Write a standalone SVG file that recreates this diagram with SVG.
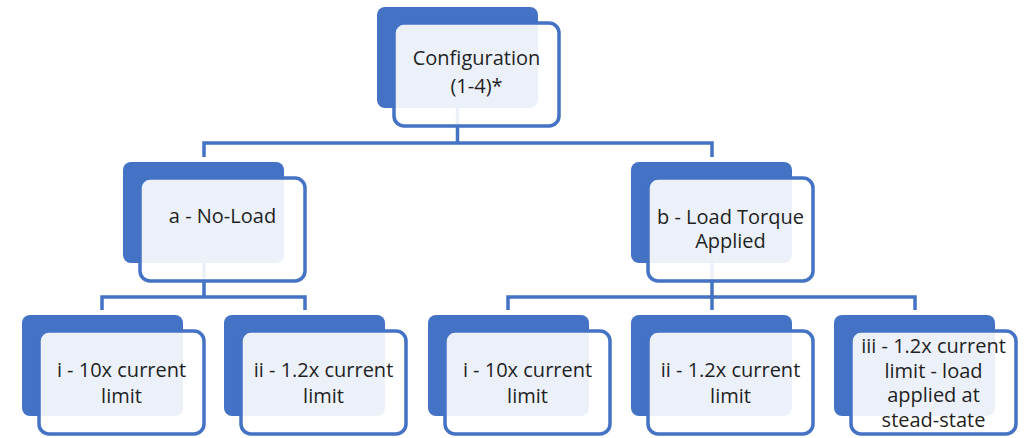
<svg xmlns="http://www.w3.org/2000/svg" width="1028" height="438" viewBox="0 0 1028 438">
<style>
.back{fill:#4472C4}
.front{fill:#FFFFFF;fill-opacity:0.9;stroke:#4472C4;stroke-width:3.5}
.conn{fill:none;stroke:#4472C4;stroke-width:3.5}
text{font-family:"Open Sans","Noto Sans",sans-serif;font-size:20px;fill:#1F1F1F;text-anchor:middle}
</style>
<rect width="1028" height="438" fill="#FFFFFF"/>
<g id="connectors">
<path class="conn" d="M457.5,108 V143 M204,143 H712 M204,141.25 V157 M712,141.25 V157"/>
<path class="conn" d="M204,263 V297 M102,297 H306 M102,295.25 V310 M305,295.25 V310"/>
<path class="conn" d="M712,263 V297 M508,297 H916 M508,295.25 V310 M712,297 V310 M915,295.25 V310"/>
</g>
<g id="node-config">
<rect class="back" x="377" y="7" width="161" height="101" rx="8"/>
<rect class="front" x="394" y="23" width="165" height="103" rx="10"/>
<text x="476.5" y="65">Configuration</text>
<text x="476.5" y="93">(1-4)*</text>
</g>
<g id="node-a">
<rect class="back" x="123" y="162" width="161" height="101" rx="8"/>
<rect class="front" x="140" y="178" width="165" height="103" rx="10"/>
<text x="222.5" y="223">a - No-Load</text>
</g>
<g id="node-b">
<rect class="back" x="631" y="162" width="161" height="101" rx="8"/>
<rect class="front" x="648" y="178" width="165" height="103" rx="10"/>
<text x="730.5" y="223.5">b - Load Torque</text>
<text x="730.5" y="248">Applied</text>
</g>
<g id="node-a-i">
<rect class="back" x="22" y="315" width="161" height="101" rx="8"/>
<rect class="front" x="39" y="331" width="165" height="103" rx="10"/>
<text x="121.5" y="377">i - 10x current</text>
<text x="121.5" y="403">limit</text>
</g>
<g id="node-a-ii">
<rect class="back" x="224" y="315" width="161" height="101" rx="8"/>
<rect class="front" x="241" y="331" width="165" height="103" rx="10"/>
<text x="323.5" y="377">ii - 1.2x current</text>
<text x="323.5" y="403">limit</text>
</g>
<g id="node-b-i">
<rect class="back" x="428" y="315" width="161" height="101" rx="8"/>
<rect class="front" x="445" y="331" width="165" height="103" rx="10"/>
<text x="527.5" y="377">i - 10x current</text>
<text x="527.5" y="403">limit</text>
</g>
<g id="node-b-ii">
<rect class="back" x="631" y="315" width="161" height="101" rx="8"/>
<rect class="front" x="648" y="331" width="165" height="103" rx="10"/>
<text x="730.5" y="377">ii - 1.2x current</text>
<text x="730.5" y="403">limit</text>
</g>
<g id="node-b-iii">
<rect class="back" x="834" y="315" width="161" height="101" rx="8"/>
<rect class="front" x="851" y="331" width="165" height="103" rx="10"/>
<text x="933.5" y="353">iii - 1.2x current</text>
<text x="933.5" y="377.5">limit - load</text>
<text x="933.5" y="402">applied at</text>
<text x="933.5" y="426.5">stead-state</text>
</g>
</svg>
